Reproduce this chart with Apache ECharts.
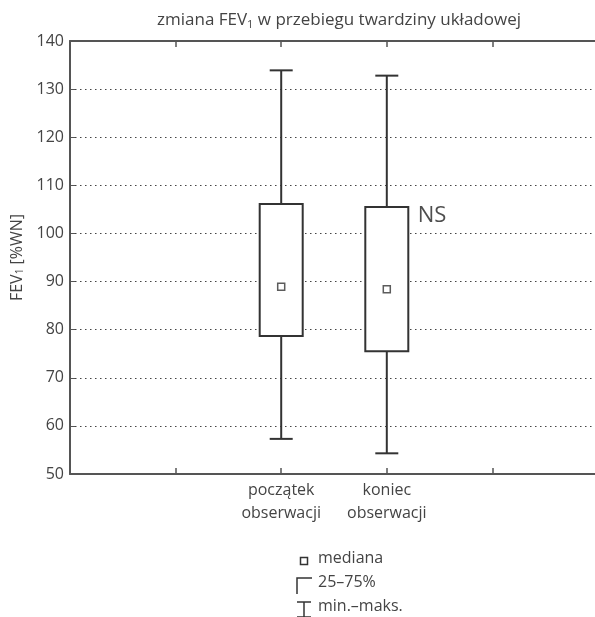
<!DOCTYPE html>
<html>
<head>
<meta charset="utf-8">
<script src="https://cdn.jsdelivr.net/npm/echarts@6/dist/echarts.min.js"></script>
<style>
  html, body { margin: 0; padding: 0; background: #fff; }
  #chart { width: 595px; height: 617px; }
</style>
</head>
<body>
<div id="chart"></div>
<script>
// slots on the x axis (boxes sit in the middle two)
const xSlots = ['', '', 'początek\nobserwacji', 'koniec\nobserwacji', '', ''];
const groupSlot = [2, 3];
const minVals = [57.3, 54.3];
const q1Vals = [78.7, 75.5];
const medianVals = [88.9, 88.4];
const q3Vals = [106.1, 105.5];
const maxVals = [133.9, 132.8];
const notes = [{ slot: 3, value: 105.5, text: 'NS' }];

const FONT = '"Open Sans", "DejaVu Sans", sans-serif';
const INK = '#333';
const TXT = '#444';

const chart = echarts.init(document.getElementById('chart'));

const boxData = groupSlot.map((s, i) => [s, q1Vals[i], q3Vals[i]]);
const whiskerData = groupSlot.map((s, i) => [s, minVals[i], q1Vals[i], q3Vals[i], maxVals[i]]);
const medianData = groupSlot.map((s, i) => [s, medianVals[i]]);

// legend drawn by hand (icons differ in size)
const legendRows = [
	{ name: 'mediana', y: 561 },
	{ name: '25–75%', y: 585 },
	{ name: 'min.–maks.', y: 609 },
];
const lx = 304;
const legendGraphics = [
	{ type: 'rect', shape: { x: lx - 3.5, y: legendRows[0].y - 3.5, width: 7, height: 7 },
		style: { fill: '#fff', stroke: INK, lineWidth: 1.5 } },
	{ type: 'polyline', shape: { points: [[lx + 8, legendRows[1].y - 7], [lx - 7, legendRows[1].y - 7], [lx - 7, legendRows[1].y + 9]] },
		style: { fill: null, stroke: INK, lineWidth: 1.5 } },
	{ type: 'line', shape: { x1: lx - 7, y1: legendRows[2].y - 7, x2: lx + 7, y2: legendRows[2].y - 7 }, style: { stroke: INK, lineWidth: 1.5 } },
	{ type: 'line', shape: { x1: lx, y1: legendRows[2].y - 7, x2: lx, y2: legendRows[2].y + 8 }, style: { stroke: INK, lineWidth: 1.5 } },
	{ type: 'line', shape: { x1: lx - 7, y1: legendRows[2].y + 8, x2: lx + 7, y2: legendRows[2].y + 8 }, style: { stroke: INK, lineWidth: 1.5 } },
].concat(legendRows.map(r => ({
	type: 'text',
	left: 318,
	top: r.y - 11,
	style: { text: r.name, fontFamily: FONT, fontSize: 16, fill: TXT },
})));

const option = {
	animation: false,
	backgroundColor: '#fff',
	title: {
		text: 'zmiana FEV{sub|1} w przebiegu twardziny układowej',
		left: 334,
		textAlign: 'center',
		top: 6,
		textStyle: {
			fontFamily: FONT, fontSize: 17, fontWeight: 'normal', color: TXT,
			rich: { sub: { fontFamily: FONT, fontSize: 11, color: TXT, padding: [8, 0, 0, 0] } },
		},
	},
	grid: { left: 70, right: -3, top: 41, bottom: 143, outerBoundsMode: 'none' },
	xAxis: [
		{
			type: 'category',
			data: xSlots,
			boundaryGap: false,
			position: 'bottom',
			axisLine: { lineStyle: { color: '#555', width: 2 } },
			axisTick: { inside: true, length: 6, lineStyle: { color: '#555', width: 1.5 } },
			axisLabel: { fontFamily: FONT, fontSize: 16, color: TXT, lineHeight: 23, margin: 5, interval: 0 },
			splitLine: { show: false },
		},
		{
			type: 'category',
			data: xSlots,
			boundaryGap: false,
			position: 'top',
			axisLine: { lineStyle: { color: '#555', width: 2 } },
			axisTick: { inside: true, length: 6, lineStyle: { color: '#555', width: 1.5 } },
			axisLabel: { show: false },
		},
	],
	yAxis: {
		type: 'value',
		min: 50,
		max: 140,
		interval: 10,
		name: 'FEV{sub|1} [%WN]',
		nameLocation: 'middle',
		nameRotate: 90,
		nameGap: 43,
		nameTextStyle: {
			fontFamily: FONT, fontSize: 16, color: TXT,
			rich: { sub: { fontFamily: FONT, fontSize: 10, color: TXT, padding: [7, 0, 0, 0] } },
		},
		axisLine: { show: true, lineStyle: { color: '#555', width: 2 } },
		axisTick: { show: true, inside: true, length: 5, lineStyle: { color: '#555' } },
		axisLabel: { fontFamily: FONT, fontSize: 16, color: TXT, margin: 6 },
		splitLine: { show: true, lineStyle: { type: [1.5, 3.5], color: '#444', width: 1.2 } },
	},
	graphic: legendGraphics,
	series: [
		{
			name: 'min.–maks.',
			type: 'custom',
			data: whiskerData,
			z: 3,
			renderItem: (params, api) => {
				const x = api.value(0);
				const pMin = api.coord([x, api.value(1)]);
				const pQ1 = api.coord([x, api.value(2)]);
				const pQ3 = api.coord([x, api.value(3)]);
				const pMax = api.coord([x, api.value(4)]);
				const cap = 11.5;
				const st = { stroke: INK, lineWidth: 2 };
				return {
					type: 'group',
					children: [
						{ type: 'line', shape: { x1: pMax[0], y1: pMax[1], x2: pQ3[0], y2: pQ3[1] }, style: st },
						{ type: 'line', shape: { x1: pQ1[0], y1: pQ1[1], x2: pMin[0], y2: pMin[1] }, style: st },
						{ type: 'line', shape: { x1: pMax[0] - cap, y1: pMax[1], x2: pMax[0] + cap, y2: pMax[1] }, style: st },
						{ type: 'line', shape: { x1: pMin[0] - cap, y1: pMin[1], x2: pMin[0] + cap, y2: pMin[1] }, style: st },
					],
				};
			},
		},
		{
			name: '25–75%',
			type: 'custom',
			data: boxData,
			z: 4,
			renderItem: (params, api) => {
				const x = api.value(0);
				const pQ1 = api.coord([x, api.value(1)]);
				const pQ3 = api.coord([x, api.value(2)]);
				const w = 43;
				return {
					type: 'rect',
					shape: { x: pQ3[0] - w / 2, y: pQ3[1], width: w, height: pQ1[1] - pQ3[1] },
					style: { fill: '#fff', stroke: INK, lineWidth: 2 },
				};
			},
		},
		{
			name: 'mediana',
			type: 'scatter',
			data: medianData,
			z: 5,
			symbol: 'rect',
			symbolSize: 7,
			itemStyle: { color: '#fff', borderColor: INK, borderWidth: 1.5 },
		},
		{
			name: 'notes',
			type: 'scatter',
			data: notes.map(n => ({ value: [n.slot, n.value], label: { formatter: n.text } })),
			z: 6,
			symbolSize: 0,
			label: {
				show: true,
				position: 'right',
				distance: 31,
				offset: [0, 9],
				fontFamily: FONT,
				fontSize: 22,
				color: '#222',
			},
		},
	],
};

chart.setOption(option);
</script>
</body>
</html>
